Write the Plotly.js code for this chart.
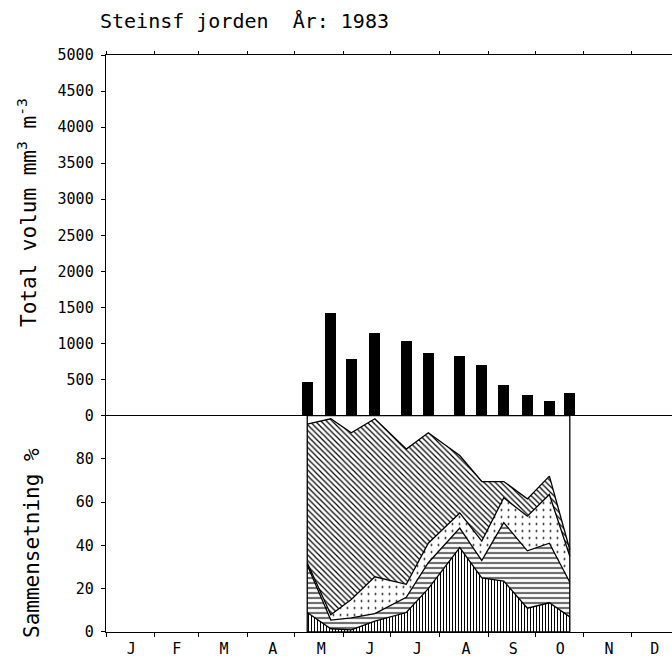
<!DOCTYPE html>
<html>
<head>
<meta charset="utf-8">
<script src="https://cdn.plot.ly/plotly-3.0.1.min.js"></script>
<style>html,body{margin:0;padding:0;background:#fff;}#chart{width:672px;height:657px;}</style>
</head>
<body>
<div id="chart"></div>
<script>
// ---- data ----
const sampleDates = ['1983-05-09','1983-05-24','1983-06-06','1983-06-21','1983-07-11','1983-07-25',
                     '1983-08-14','1983-08-28','1983-09-11','1983-09-26','1983-10-10','1983-10-23'];
const totalVolume = [470, 1420, 780, 1145, 1040, 870, 825, 695, 425, 280, 205, 310];
// composition (%), stacked from bottom
const groupVertical   = [9, 1.5, 1, 5, 9, 20, 39, 25, 23.5, 11, 13.5, 7];
const groupHorizontal = [22, 4, 5.5, 3.5, 7, 12, 9, 8, 27, 26.5, 27.5, 16];
const groupDotted     = [1, 2.5, 8.5, 17, 6, 9, 7, 9, 11.5, 16, 22.5, 12];
const groupDiagonal   = [64, 90.5, 77, 73, 62.5, 51, 26.5, 27.5, 7.5, 8, 8.5, 3];
const monthStarts = ['1983-01-01','1983-02-01','1983-03-01','1983-04-01','1983-05-01','1983-06-01',
                     '1983-07-01','1983-08-01','1983-09-01','1983-10-01','1983-11-01','1983-12-01'];
const monthLabelDates = ['1983-01-17','1983-02-15','1983-03-17','1983-04-17','1983-05-18','1983-06-18',
                         '1983-07-18','1983-08-18','1983-09-17','1983-10-17','1983-11-17','1983-12-16'];
const monthLabels = ['J','F','M','A','M','J','J','A','S','O','N','D'];
const volumeTicks = [0,500,1000,1500,2000,2500,3000,3500,4000,4500,5000];
const pctTicks = [0,20,40,60,80];

const FONT = 'DejaVu Sans Mono, monospace';
const DAY = 86400000;

function area(y, shape, size, solidity) {
  return {
    type: 'scatter', mode: 'lines', x: sampleDates, y: y,
    xaxis: 'x', yaxis: 'y2', stackgroup: 'comp',
    line: {color: '#000', width: 1.3},
    fillpattern: {shape: shape, fgcolor: '#000', bgcolor: '#fff', size: size, solidity: solidity},
    fillcolor: '#fff',
    hoverinfo: 'skip', showlegend: false
  };
}

const traces = [
  {type: 'bar', x: sampleDates, y: totalVolume, xaxis: 'x2', yaxis: 'y',
   width: 7 * DAY, marker: {color: '#000', line: {width: 0}}, showlegend: false, hoverinfo: 'skip'},
  area(groupVertical, '|', 3, 0.35),
  area(groupHorizontal, '-', 5, 0.25),
  area(groupDotted, '.', 7, 0.06),
  area(groupDiagonal, '\\', 4, 0.3)
];

const xRange = ['1983-01-01', '1983-12-27'];
const DOMAIN_SPLIT = 0.3752;

const layout = {
  width: 672, height: 657,
  margin: {l: 106, r: 0, t: 55, b: 25},
  paper_bgcolor: '#fff', plot_bgcolor: 'rgba(0,0,0,0)',
  font: {family: FONT, size: 15, color: '#000'},
  showlegend: false,
  bargap: 0,
  title: {text: 'Steinsf jorden  År: 1983', font: {family: FONT, size: 20, color: '#000'},
          xref: 'container', x: 100/672, xanchor: 'left', yref: 'container', y: 1 - 21/657, yanchor: 'middle'},
  xaxis: {
    type: 'date', range: xRange, domain: [0, 1], anchor: 'y2',
    showline: true, linecolor: '#000', linewidth: 1.3, showgrid: false, zeroline: false,
    tickmode: 'array', tickvals: monthLabelDates, ticktext: monthLabels, ticks: '',
    ticklabelstandoff: 3,
    tickfont: {family: FONT, size: 15, color: '#000'},
    minor: {tickmode: 'array', tickvals: monthStarts, ticks: 'outside', ticklen: 4, tickcolor: '#000', tickwidth: 1, showgrid: false}
  },
  xaxis2: {
    type: 'date', range: xRange, matches: 'x', anchor: 'y', side: 'top',
    showline: true, linecolor: '#000', linewidth: 1.3, showgrid: false, zeroline: false,
    tickmode: 'array', tickvals: monthStarts, ticks: 'outside', ticklen: 3, tickcolor: '#000',
    showticklabels: false
  },
  yaxis: {
    domain: [DOMAIN_SPLIT, 1], range: [0, 5000], anchor: 'x2',
    tickmode: 'array', tickvals: volumeTicks, ticks: 'outside', ticklen: 4, tickcolor: '#000',
    ticklabelstandoff: 4,
    showline: true, linecolor: '#000', linewidth: 1.3, showgrid: false,
    zeroline: true, zerolinecolor: '#000', zerolinewidth: 1.5,
    tickfont: {family: FONT, size: 15, color: '#000'}
  },
  yaxis2: {
    domain: [0, DOMAIN_SPLIT], range: [0, 100], anchor: 'x',
    tickmode: 'array', tickvals: pctTicks, ticks: 'outside', ticklen: 4, tickcolor: '#000',
    ticklabelstandoff: 4,
    showline: true, linecolor: '#000', linewidth: 1.3, showgrid: false, zeroline: false,
    tickfont: {family: FONT, size: 15, color: '#000'}
  },
  shapes: [
    {type: 'rect', xref: 'x', yref: 'y2', x0: sampleDates[0], x1: sampleDates[sampleDates.length - 1],
     y0: 0, y1: 100, line: {color: '#000', width: 1.3}, fillcolor: 'rgba(0,0,0,0)', layer: 'above'}
  ],
  annotations: [
    {text: 'Total volum mm<sup>3</sup> m<sup>-3</sup>', textangle: -90, showarrow: false,
     xref: 'paper', yref: 'paper', x: (27 - 106) / 566, y: (632 - 213) / 577, xanchor: 'center', yanchor: 'middle',
     font: {family: FONT, size: 21, color: '#000'}},
    {text: 'Sammensetning %', textangle: -90, showarrow: false,
     xref: 'paper', yref: 'paper', x: (32 - 106) / 566, y: (632 - 543) / 577, xanchor: 'center', yanchor: 'middle',
     font: {family: FONT, size: 21, color: '#000'}}
  ]
};

Plotly.newPlot('chart', traces, layout, {staticPlot: true, displayModeBar: false});
</script>
</body>
</html>
